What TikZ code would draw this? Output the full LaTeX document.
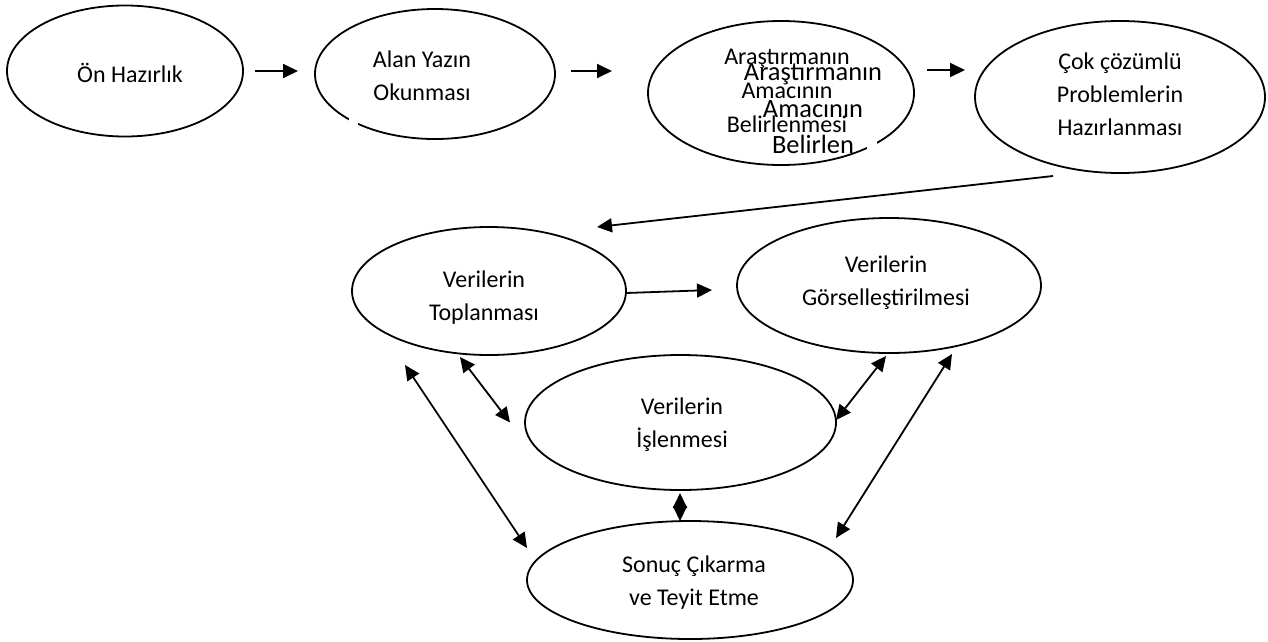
\documentclass[tikz,border=0pt]{standalone}
\usepackage{fontspec}
\setmainfont{Carlito}
\usetikzlibrary{shapes.geometric,arrows.meta,calc}
\begin{document}
\begin{tikzpicture}[x=1pt,y=-1pt,
  ell/.style={draw, ellipse, line width=1.8pt, inner sep=0pt, outer sep=0pt},
  txt/.style={align=center, anchor=base, font=\fontsize{24}{33}\selectfont, inner sep=0pt},
  bigtxt/.style={align=center, anchor=base, font=\fontsize{26.4}{36.5}\selectfont, inner sep=0pt},
  smalltxt/.style={align=center, anchor=base, font=\fontsize{24}{34}\selectfont, inner sep=0pt},
  tip/.tip={Triangle[length=15pt,width=14pt]},
  arr/.style={line width=1.8pt, -tip},
  darr/.style={line width=1.8pt, tip-tip},
  patch/.style={fill=white, draw=none}]
\useasboundingbox[fill=white] (0,0) rectangle (1268,641);

% ellipses
\node[ell, minimum width=236pt, minimum height=131pt] (e1) at (125,71) {};
\node[ell, minimum width=240pt, minimum height=130pt] (e2) at (435,74) {};
\node[ell, minimum width=266pt, minimum height=144pt] (e3) at (781,93) {};
\node[ell, minimum width=290pt, minimum height=152pt] (e4) at (1120,97) {};
\node[ell, minimum width=274pt, minimum height=128pt] (e5) at (489,291) {};
\node[ell, minimum width=304pt, minimum height=135pt] (e6) at (889,285.5) {};
\node[ell, minimum width=311pt, minimum height=135pt] (e7) at (680.5,422.5) {};
\node[ell, minimum width=326pt, minimum height=118pt] (e8) at (690,580) {};

% small gaps in outlines
\fill[patch] (349,115) rectangle (358,127);
\fill[patch] (867,134) rectangle (877,152);

% texts (base anchor = baseline of last line)
\node[txt] (t1) at (130,82) {Ön Hazırlık};
\node[txt] (t2) at (422,100) {Alan Yazın\\Okunması};
\node[smalltxt] (t3a) at (787,132.5) {Araştırmanın\\Amacının\\Belirlenmesi};
\node[bigtxt] (t3b) at (813,153.5) {Araştırmanın\\Amacının\\Belirlen};
\node[txt] (t4) at (1120,135.5) {Çok çözümlü\\Problemlerin\\Hazırlanması};
\node[txt] (t5) at (484,320.5) {Verilerin\\Toplanması};
\node[txt] (t6) at (886,305) {Verilerin\\Görselleştirilmesi};
\node[txt] (t7) at (682,447) {Verilerin\\İşlenmesi};
\node[txt] (t8) at (694,605) {Sonuç Çıkarma\\ve Teyit Etme};

% connectors
\draw[arr] ($(e1.east)+(12,0)$) -- ($(e2.west)+(-17,-3)$);
\draw[arr] ($(e2.east)+(16,-3)$) -- ($(e3.west)+(-36,-22)$);
\draw[arr] ($(e3.east)+(13,-23)$) -- ($(e4.west)+(-10,-27)$);
\draw[arr] ($(e4.south)+(-67,3)$) -- ($(e5.north)+(108,0)$);
\draw[arr] ($(e5.east)+(0,2)$) -- ($(e6.west)+(-25,4.5)$);
\draw[darr] ($(e5.south)+(-84,10)$) -- ($(e8.west)+(0,-32)$);
\draw[darr] ($(e5.south)+(-29,2)$) -- ($(e7.west)+(-15,0)$);
\draw[darr] ($(e7.south)+(-0.5,3)$) -- ($(e8.north)+(-10,0)$);
\draw[darr] ($(e6.south)+(-3,3)$) -- ($(e7.east)+(0,-2.5)$);
\draw[darr] ($(e6.south)+(63,1)$) -- ($(e8.east)+(-17,-42)$);
\end{tikzpicture}
\end{document}
